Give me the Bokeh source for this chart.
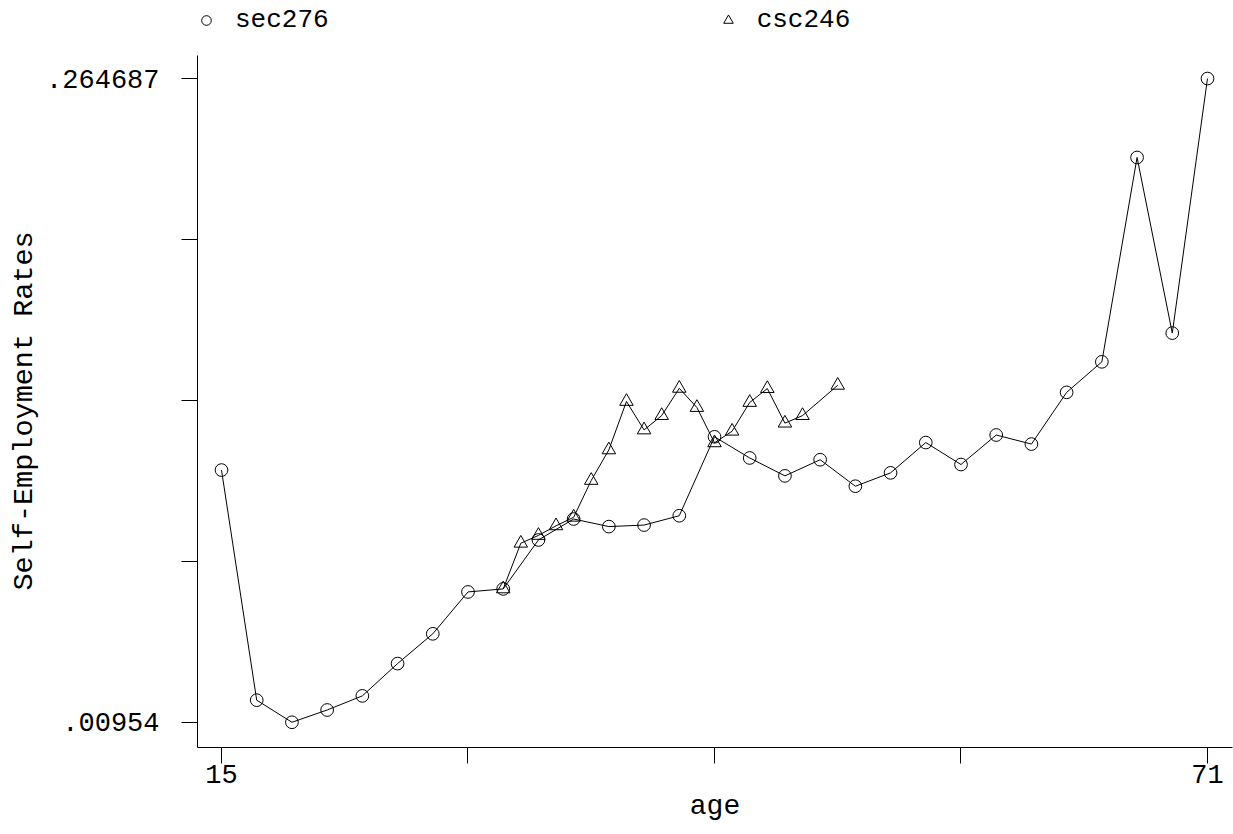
from bokeh.plotting import figure
from bokeh.models import Range1d, FixedTicker, CustomJSTickFormatter, Legend, LegendItem, Title
from bokeh.embed import file_html
from bokeh.resources import INLINE

# ---- data ----
sec_age = [15, 17, 19, 21, 23, 25, 27, 29, 31, 33, 35, 37, 39, 41, 43,
           45, 47, 49, 51, 53, 55, 57, 59, 61, 63, 65, 67, 69, 71]
sec276 = [0.1095, 0.0183, 0.00954, 0.0144, 0.0200, 0.0328, 0.0446, 0.0612,
          0.0624, 0.0818, 0.0901, 0.0871, 0.0877, 0.0914, 0.1227,
          0.1143, 0.1072, 0.1136, 0.1031, 0.1084, 0.1204, 0.1117, 0.1234,
          0.1198, 0.1403, 0.1524, 0.2334, 0.1638, 0.264687]

csc_age = [31, 32, 33, 34, 35, 36, 37, 38, 39, 40, 41, 42, 43, 44, 45, 46, 47, 48, 50]
csc246 = [0.0624, 0.0805, 0.0836, 0.0874, 0.0908, 0.1054, 0.1175, 0.1367,
          0.1254, 0.1311, 0.1419, 0.1343, 0.1203, 0.1249, 0.1363, 0.1418,
          0.1281, 0.1311, 0.1431]

x_ticks = [15, 29, 43, 57, 71]
x_tick_labels = ["15", "", "", "", "71"]
y_ticks = [0.00954, 0.07332675, 0.1371135, 0.20090025, 0.264687]
y_tick_labels = [".00954", "", "", "", ".264687"]

FONT = "Liberation Mono"

# frame spans the full top so the legend can sit above the plotted area;
# the y axis itself is limited with `bounds`
p = figure(width=1233, height=834,
           x_range=Range1d(13.637, 72.42), y_range=Range1d(-0.00046, 0.29562),
           output_backend="svg", toolbar_location=None,
           min_border_left=197, min_border_right=1,
           min_border_top=0, min_border_bottom=87)

p.outline_line_color = None
p.xgrid.visible = False
p.ygrid.visible = False
p.background_fill_color = "white"
p.border_fill_color = "white"

# lines and markers
p.line(sec_age, sec276, line_color="black", line_width=1)
p.line(csc_age, csc246, line_color="black", line_width=1)
r_sec = p.scatter(sec_age, sec276, marker="circle", size=12.7,
                  fill_color=None, line_color="black", line_width=1)
r_csc = p.scatter(csc_age, csc246, marker="triangle", size=13.5,
                  fill_color=None, line_color="black", line_width=1)

# axes
for ax, ticks, labels in ((p.xaxis[0], x_ticks, x_tick_labels),
                          (p.yaxis[0], y_ticks, y_tick_labels)):
    ax.ticker = FixedTicker(ticks=ticks)
    ax.formatter = CustomJSTickFormatter(
        args=dict(vals=ticks, labels=labels),
        code="""
        for (let i = 0; i < vals.length; i++) {
            if (Math.abs(vals[i] - tick) < 1e-9) { return labels[i]; }
        }
        return "";
        """)
    ax.axis_line_color = "black"
    ax.axis_line_width = 1
    ax.major_tick_line_color = "black"
    ax.major_tick_line_width = 1
    ax.major_tick_in = 0
    ax.major_tick_out = 16
    ax.minor_tick_line_color = None
    ax.major_label_text_font = FONT
    ax.major_label_text_font_size = "27px"
    ax.major_label_text_color = "black"
    ax.axis_label_text_font = FONT
    ax.axis_label_text_font_style = "normal"
    ax.axis_label_text_color = "black"

p.yaxis.bounds = (-0.00046, 0.27381)
p.xaxis.axis_label = "age"
p.xaxis.axis_label_text_font_size = "28px"
p.xaxis.major_label_standoff = 1
p.xaxis.axis_label_standoff = 5
p.yaxis.major_label_standoff = 22

# y title as a left-side title, so it can be centred on the axis extent
ytitle = Title(text="Self-Employment Rates", align="left", offset=157,
               text_font=FONT, text_font_size="28.5px", text_font_style="normal",
               text_color="black", standoff=5)
p.add_layout(ytitle, "left")

legend = Legend(items=[LegendItem(label="sec276", renderers=[r_sec]),
                       LegendItem(label="csc246", renderers=[r_csc])],
                orientation="horizontal", location=(-3, 707),
                margin=0, padding=0, spacing=387,
                glyph_width=24, glyph_height=40, label_height=40,
                label_standoff=17,
                label_text_font=FONT, label_text_font_size="26px",
                label_text_color="black",
                border_line_color=None, background_fill_alpha=0)
p.add_layout(legend, "center")

open("out.html", "w").write(file_html(p, INLINE))
